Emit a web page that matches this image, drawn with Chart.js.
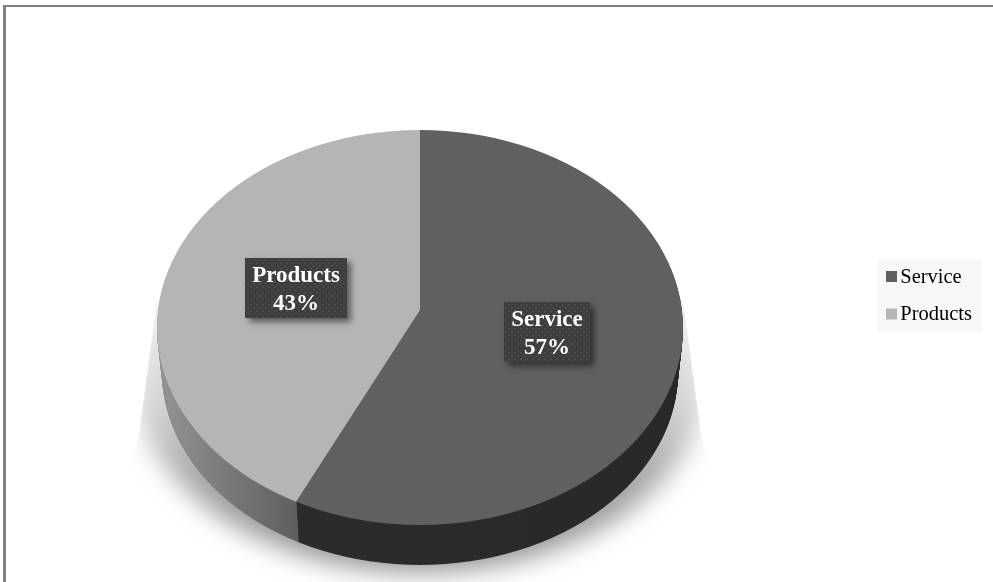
<!DOCTYPE html>
<html>

<head>
	<meta charset="UTF-8">
	<script src="https://cdn.jsdelivr.net/npm/chart.js@4/dist/chart.umd.js"></script>
	<style>
		html, body { margin: 0; padding: 0; background: #fff; }
		canvas { display: block; }
	</style>
</head>

<body>
	<canvas id="pieChart" width="993" height="582"></canvas>
	<script>
		var categories = ['Service', 'Products'];
		var shares = [57, 43];

		var topColors = ['#606060', '#b5b5b5'];
		var FONT = '"Liberation Serif", serif';

		// 디스크 윗면/아랫면 타원과 꼭짓점 위치
		var disc = { x: 420, y: 327.5, rx: 263, ry: 197.5 };
		var base = { y: 372, rx: 258, ry: 193 };
		var apex = { x: 420, y: 310, sx: 412, sy: 300 };
		var STEPS = 44;

		// t = 0 이면 윗면, t = 1 이면 아랫면
		function discPath(ctx, t) {
			ctx.beginPath();
			ctx.ellipse(disc.x, disc.y + (base.y - disc.y) * t,
				disc.rx + (base.rx - disc.rx) * t,
				disc.ry + (base.ry - disc.ry) * t, 0, 0, Math.PI * 2);
		}

		// 원형 arc 를 기울어진 타원 좌표계로 옮긴다
		function applyTilt(ctx, arc, dy) {
			ctx.translate(apex.x, apex.y + dy);
			ctx.scale(apex.sx / arc.outerRadius, apex.sy / arc.outerRadius);
			ctx.translate(-arc.x, -arc.y);
		}

		function sideGradient(ctx, index) {
			var g = ctx.createLinearGradient(disc.x - disc.rx, 0, disc.x + disc.rx, 0);
			if (index === 1) {
				g.addColorStop(0, '#949494');
				g.addColorStop(0.27, '#5e5e5e');
				g.addColorStop(1, '#5e5e5e');
			} else {
				g.addColorStop(0, '#2c2c2c');
				g.addColorStop(1, '#282828');
			}
			return g;
		}

		function drawFloorShadow(ctx) {
			ctx.save();
			ctx.beginPath();
			ctx.moveTo(157, 300);
			ctx.lineTo(139, 435);
			ctx.lineTo(100, 582);
			ctx.lineTo(740, 582);
			ctx.lineTo(701, 435);
			ctx.lineTo(683, 300);
			ctx.closePath();
			ctx.clip();
			var g = ctx.createLinearGradient(0, 300, 0, 570);
			g.addColorStop(0, '#ececec');
			g.addColorStop(0.37, '#d6d6d6');
			g.addColorStop(0.67, '#a4a4a4');
			g.addColorStop(1, '#909090');
			ctx.filter = 'blur(13px)';
			ctx.fillStyle = g;
			ctx.beginPath();
			ctx.ellipse(420, 378, 285, 194, 0, 0, Math.PI * 2);
			ctx.fill();
			ctx.restore();
		}

		var tiltPlugin = {
			id: 'tilt',
			beforeDraw: function (chart) {
				var ctx = chart.ctx;
				ctx.save();
				ctx.fillStyle = '#fff';
				ctx.fillRect(0, 0, chart.width, chart.height);
				// 바깥 테두리
				ctx.fillStyle = '#808080';
				ctx.fillRect(3, 5, chart.width - 3, 2);
				ctx.fillRect(3, 5, 3, chart.height - 5);
				// 범례 배경
				ctx.fillStyle = '#f8f8f8';
				ctx.fillRect(877, 259, 105, 73);
				ctx.restore();
			},
			beforeDatasetsDraw: function (chart) {
				var ctx = chart.ctx;
				var arcs = chart.getDatasetMeta(0).data;

				drawFloorShadow(ctx);

				// 옆면: 아래에서 위로 쌓아 올린다
				for (var step = STEPS; step >= 1; step--) {
					ctx.save();
					discPath(ctx, step / STEPS);
					ctx.clip();
					arcs.forEach(function (arc, i) {
						ctx.save();
						applyTilt(ctx, arc, step);
						ctx.beginPath();
						ctx.moveTo(arc.x, arc.y);
						ctx.arc(arc.x, arc.y, arc.outerRadius, arc.startAngle, arc.endAngle);
						ctx.closePath();
						ctx.restore();
						ctx.fillStyle = sideGradient(ctx, i);
						ctx.fill();
					});
					ctx.restore();
				}

				// 윗면
				ctx.save();
				discPath(ctx, 0);
				ctx.clip();
				applyTilt(ctx, arcs[0], 0);
			},
			afterDatasetsDraw: function (chart) {
				chart.ctx.restore();
			},
			afterDraw: function (chart) {
				var ctx = chart.ctx;
				drawValueBox(ctx, 245, 258, 102, 60, categories[1], shares[1]);
				drawValueBox(ctx, 504, 302, 86, 60, categories[0], shares[0]);

				// 범례 색상 박스
				chart.legend.legendHitBoxes.forEach(function (box, i) {
					ctx.fillStyle = topColors[i];
					ctx.fillRect(box.left - 3, box.top + 4, 11, 11);
				});
			}
		};

		function dotPattern(ctx) {
			var tile = document.createElement('canvas');
			tile.width = 6;
			tile.height = 6;
			var t = tile.getContext('2d');
			t.fillStyle = '#3d3d3d';
			t.fillRect(0, 0, 6, 6);
			t.fillStyle = '#4a4a4a';
			t.fillRect(1, 1, 2, 2);
			t.fillRect(4, 4, 2, 2);
			return ctx.createPattern(tile, 'repeat');
		}

		function drawValueBox(ctx, x, y, w, h, name, value) {
			ctx.save();
			ctx.shadowColor = 'rgba(0,0,0,0.5)';
			ctx.shadowBlur = 6;
			ctx.shadowOffsetX = 4;
			ctx.shadowOffsetY = 4;
			ctx.fillStyle = '#3d3d3d';
			ctx.fillRect(x, y, w, h);
			ctx.restore();

			ctx.save();
			ctx.fillStyle = dotPattern(ctx);
			ctx.fillRect(x, y, w, h);
			ctx.fillStyle = '#fff';
			ctx.font = 'bold 23px ' + FONT;
			ctx.textAlign = 'center';
			ctx.textBaseline = 'middle';
			ctx.fillText(name, x + w / 2, y + 18);
			ctx.fillText(value + '%', x + w / 2, y + 46);
			ctx.restore();
		}

		new Chart(document.getElementById('pieChart').getContext('2d'), {
			type: 'pie',
			data: {
				labels: categories,
				datasets: [{
					data: shares,
					backgroundColor: topColors,
					borderWidth: 0
				}]
			},
			options: {
				responsive: false,
				animation: false,
				layout: {
					padding: { top: 10, bottom: 0, right: 11 }
				},
				plugins: {
					tooltip: { enabled: false },
					legend: {
						position: 'right',
						labels: {
							boxWidth: 1,
							boxHeight: 1,
							padding: 17,
							color: '#444',
							font: { family: FONT, size: 20.5 },
							generateLabels: function (chart) {
								return categories.map(function (name, i) {
									return { text: name, fillStyle: 'rgba(0,0,0,0)', strokeStyle: 'rgba(0,0,0,0)', lineWidth: 0, index: i };
								});
							}
						}
					}
				}
			},
			plugins: [tiltPlugin]
		});
	</script>
</body>

</html>
